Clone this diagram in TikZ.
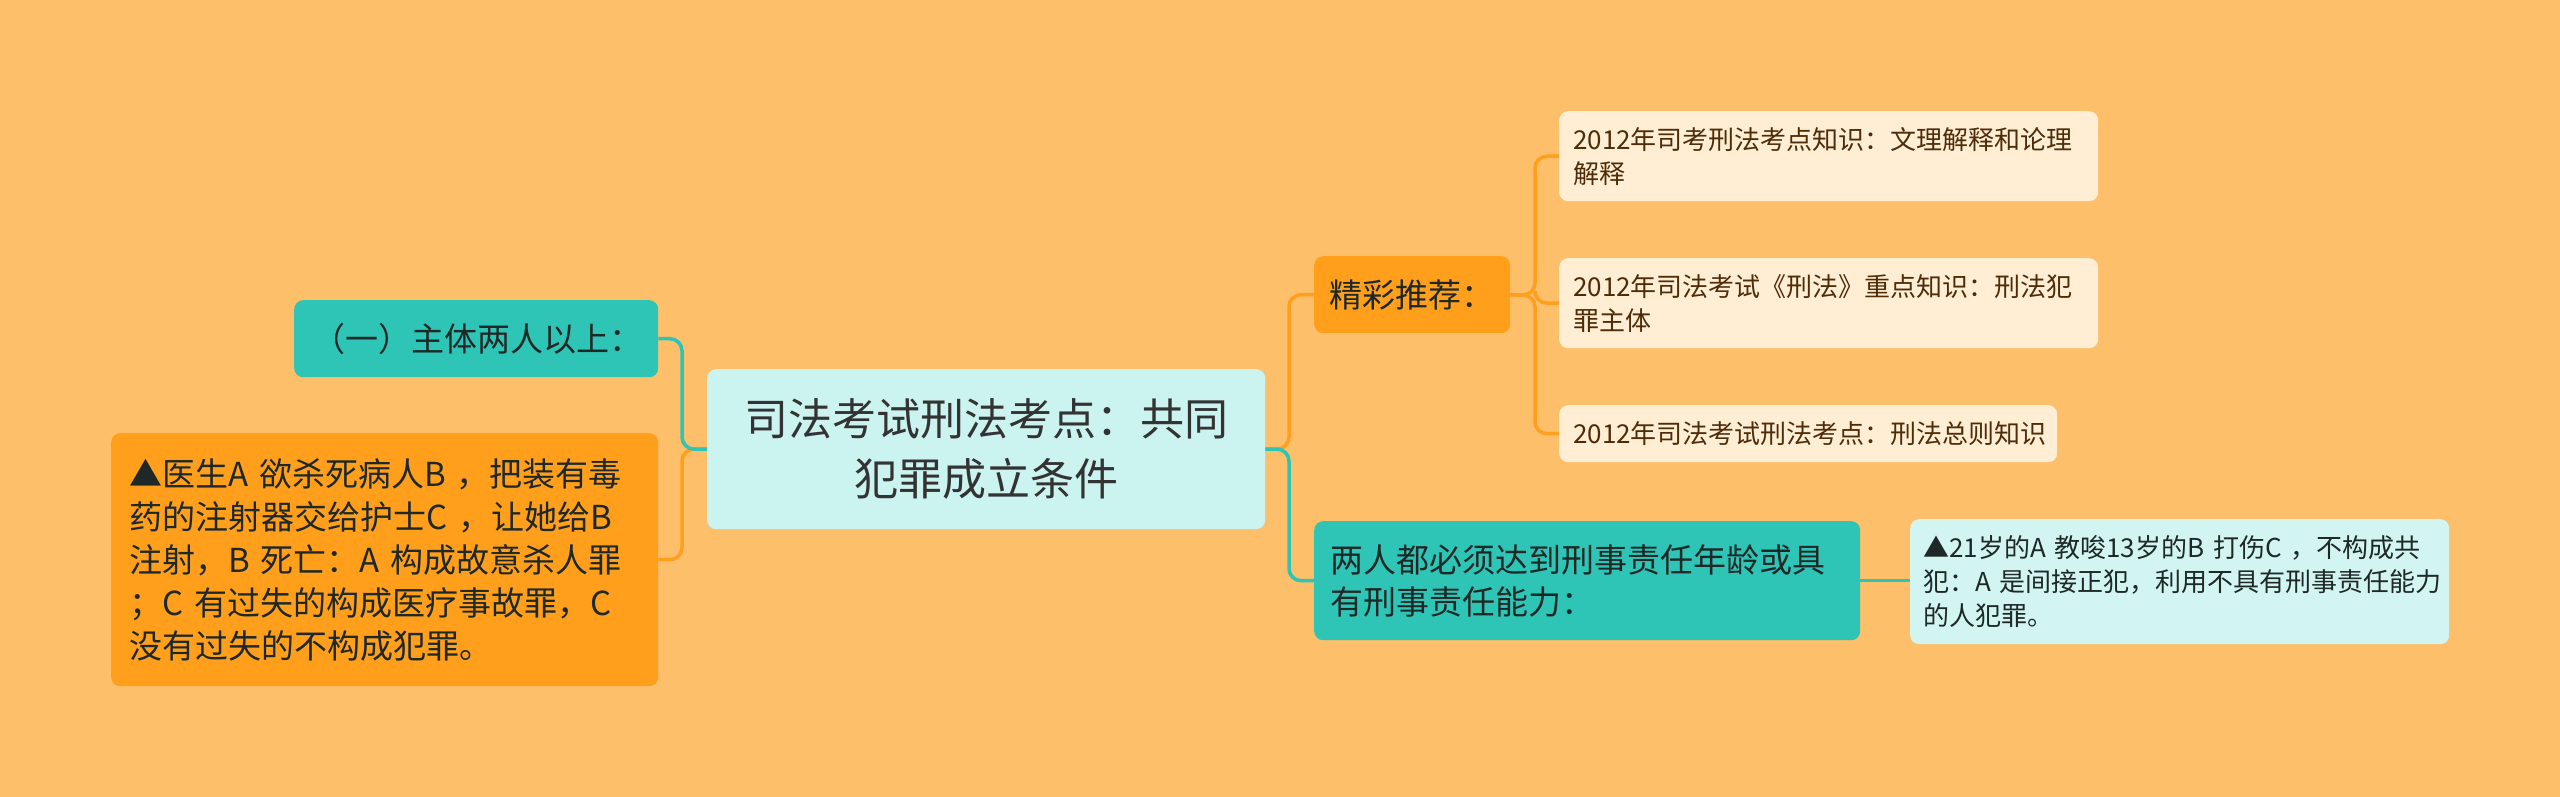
\documentclass[tikz,border=0pt]{standalone}
\usepackage{fontspec}
\newfontfamily\cjk{Noto Sans CJK SC}
\definecolor{bg}{RGB}{254,191,106}
\definecolor{teal1}{RGB}{46,196,182}
\definecolor{orange1}{RGB}{255,159,28}
\definecolor{rootfill}{RGB}{203,243,240}
\definecolor{leaffill}{RGB}{255,237,212}
\definecolor{exfill}{RGB}{210,245,241}
\definecolor{roottext}{RGB}{51,51,51}
\definecolor{leaftext}{RGB}{78,44,8}
\definecolor{darktext}{RGB}{30,40,38}
\tikzset{
  box/.style={rounded corners=9pt, inner ysep=0pt, anchor=north west, align=left},
  rootbox/.style={box, fill=rootfill, text=roottext, align=center, inner xsep=10pt,
    font=\cjk\fontsize{44}{60}\selectfont},
  tealbox/.style={box, fill=teal1, text=darktext, font=\cjk\fontsize{33}{42}\selectfont},
  orangebox/.style={box, fill=orange1, text=darktext, font=\cjk\fontsize{33}{43}\selectfont},
  leafbox/.style={box, fill=leaffill, text=leaftext, inner xsep=14pt, font=\cjk\fontsize{26}{34}\selectfont},
  exbox/.style={box, fill=exfill, text=darktext, inner xsep=13pt, font=\cjk\fontsize{26}{34}\selectfont},
  tedge/.style={draw=teal1, line width=3.5pt, rounded corners=12pt},
  oedge/.style={draw=orange1, line width=3.5pt, rounded corners=12pt},
}
\begin{document}
\begin{tikzpicture}[x=1pt,y=-1pt]
\fill[bg] (0,0) rectangle (2560,797);
\useasboundingbox (0,0) rectangle (2560,797);

% spine coordinates
\coordinate (ls) at (682,449);
\coordinate (rs) at (1289,449);
\coordinate (js) at (1535,295);

% nodes
\node[rootbox, text width=538pt, minimum height=160pt] (root) at (707,369)
  {司法考试刑法考点：共同\\犯罪成立条件};
\node[tealbox, inner xsep=18pt, text width=328pt, minimum height=77pt, align=right] (l1) at (294,300)
  {（一）主体两人以上：};
\node[orangebox, inner xsep=18pt, text width=511pt, minimum height=253pt] (l2) at (111,433)
  {▲医生A 欲杀死病人B ，把装有毒\\药的注射器交给护士C ，让她给B\\注射，B 死亡：A 构成故意杀人罪\\；C 有过失的构成医疗事故罪，C\\没有过失的不构成犯罪。};
\node[orangebox, inner xsep=15pt, text width=166pt, minimum height=77pt] (jc) at (1314,256)
  {精彩推荐：};
\node[leafbox, text width=511pt, minimum height=90pt] (f1) at (1559,111)
  {2012年司考刑法考点知识：文理解释和论理\\解释};
\node[leafbox, text width=511pt, minimum height=90pt] (f2) at (1559,258)
  {2012年司法考试《刑法》重点知识：刑法犯\\罪主体};
\node[leafbox, text width=470pt, minimum height=57pt] (f3) at (1559,405)
  {2012年司法考试刑法考点：刑法总则知识};
\node[tealbox, inner xsep=16pt, text width=514pt, minimum height=119pt] (lr) at (1314,521)
  {两人都必须达到刑事责任年龄或具\\有刑事责任能力：};
\node[exbox, text width=513pt, minimum height=125pt] (ex) at (1910,519)
  {▲21岁的A 教唆13岁的B 打伤C ，不构成共\\犯：A 是间接正犯，利用不具有刑事责任能力\\的人犯罪。};

% connectors
\draw[oedge] (root.west) -- (ls) |- (l2.east);
\draw[tedge] (root.west) -- (ls) |- (l1.east);
\draw[oedge] (root.east) -- (rs) |- (jc.west);
\draw[tedge] (root.east) -- (rs) |- (lr.west);
\draw[oedge] (jc.east) -- (js) |- (f1.west);
\draw[oedge] (jc.east) -- (js) |- (f3.west);
\draw[oedge] (js) |- (f2.west);
\draw[tedge] (lr.east) -- (lr.east -| ex.west);
\end{tikzpicture}
\end{document}
